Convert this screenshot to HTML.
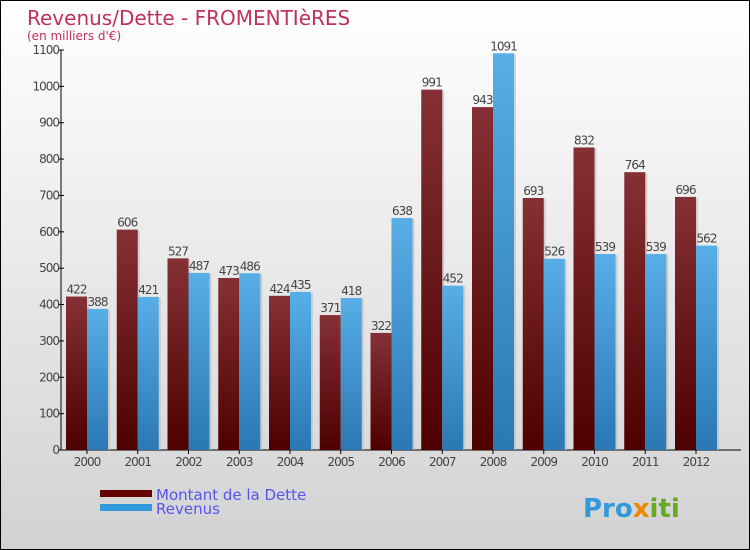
<!DOCTYPE html>
<html><head><meta charset="utf-8"><style>
body{margin:0}
#c{position:relative;width:748px;height:548px;border:1px solid #000;background:linear-gradient(#ffffff,#d2d2d2);overflow:hidden;font-family:"DejaVu Sans","Liberation Sans",sans-serif}
</style></head><body>
<div id="c">
<svg width="748" height="548">
<defs>
<linearGradient id="gd" x1="0" y1="0" x2="0" y2="1"><stop offset="0" stop-color="#853035"/><stop offset="1" stop-color="#4e0000"/></linearGradient>
<linearGradient id="gb" x1="0" y1="0" x2="0" y2="1"><stop offset="0" stop-color="#58aee6"/><stop offset="1" stop-color="#2a78b4"/></linearGradient>
</defs>
<text x="26" y="24" font-size="20" fill="#c0305a">Revenus/Dette - FROMENTIèRES</text>
<text x="26" y="39" font-size="12" fill="#c0305a">(en milliers d'€)</text>
<g id="axes"></g>
<g id="bars"></g>
<rect x="99" y="489" width="52" height="7" fill="#640000"/>
<rect x="99" y="503" width="52" height="7" fill="#3399dd"/>
<text x="155" y="499" font-size="15" fill="#5555ee">Montant de la Dette</text>
<text x="155" y="513" font-size="15" fill="#5555ee">Revenus</text>
<text x="582" y="516" font-size="26" font-weight="bold"><tspan fill="#3399dd">Pro</tspan><tspan fill="#ee8800">x</tspan><tspan fill="#66aa22">iti</tspan></text>
</svg>
</div>
<script>
const years=["2000","2001","2002","2003","2004","2005","2006","2007","2008","2009","2010","2011","2012"];
const dette=[422,606,527,473,424,371,322,991,943,693,832,764,696];
const revenus=[388,421,487,486,435,418,638,452,1091,526,539,539,562];
const yTicks=[0,100,200,300,400,500,600,700,800,900,1000,1100];
const NS="http://www.w3.org/2000/svg";
const x0=60,step=50.75,y0=449,yMax=1100,yTop=49;
function y(v){return y0-(v/yMax)*(y0-yTop);}
function cx(i){return x0+26+i*step;}
function mk(t,a,p){const e=document.createElementNS(NS,t);for(const k in a)e.setAttribute(k,a[k]);p.appendChild(e);return e;}
const ax=document.getElementById('axes'),bg=document.getElementById('bars');
const yl=mk('line',{x1:x0,y1:yTop,x2:x0,y2:y0,stroke:'#000'},ax);


const xl=mk('line',{x1:x0,y1:y0,x2:740,y2:y0,stroke:'#000'},ax);


yTicks.forEach(v=>{
 mk('line',{x1:x0-3,y1:y(v),x2:x0+3,y2:y(v),stroke:'#000'},ax);
 const t=mk('text',{x:x0-2,y:y(v)+4,'font-size':12,'text-anchor':'end',fill:'#444','letter-spacing':'-1'},ax);
 t.textContent=v;
 
 
});
years.forEach((yr,i)=>{
 const c=cx(i);
 mk('line',{x1:c,y1:y0,x2:c,y2:y0+4,stroke:'#000'},ax);
 const t=mk('text',{x:c,y:y0+16,'font-size':12,'text-anchor':'middle',fill:'#444','letter-spacing':'-1'},ax);
 t.textContent=yr;
 
 
 [[dette[i],c-21,'url(#gd)','bar-dette'],[revenus[i],c,'url(#gb)','bar-revenus']].forEach(([v,x,f,n])=>{
  mk('rect',{x:x+2,y:y(v)+1,width:21,height:y0-y(v)-1,fill:'#bbb',opacity:.6},bg);
  const r=mk('rect',{x:x,y:y(v),width:21,height:y0-y(v),fill:f},bg);
  
  
  const l=mk('text',{x:x+10.5,y:y(v)-3,'font-size':12,'text-anchor':'middle',fill:'#444','letter-spacing':'-1'},bg);
  l.textContent=v;
  
  
 });
});
</script>
</body></html>
